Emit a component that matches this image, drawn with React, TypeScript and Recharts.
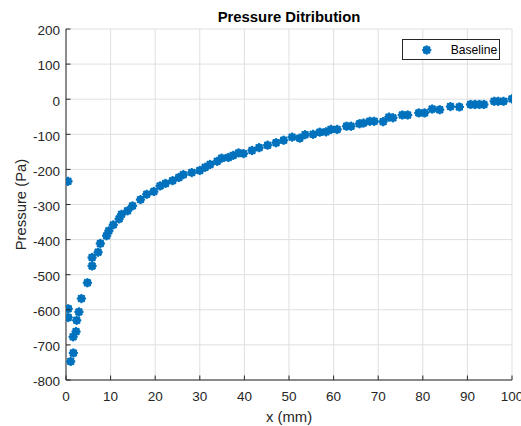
import React from 'react';
import { ScatterChart, Scatter, XAxis, YAxis, CartesianGrid } from 'recharts';

const xValues = [
  0.45, 0.5, 0.5, 1.05, 1.65, 1.6, 2.25, 2.4, 2.9, 3.45, 4.8, 5.85, 5.85, 7.2, 7.7, 9.1, 9.6,
  10.6, 11.9, 12.45, 13.8, 14.9, 16.7, 18.1, 19.7, 21.1, 22.3, 23.9, 25.3, 26.3, 28.2, 30.0,
  31.2, 32.3, 33.9, 34.9, 36.4, 37.5, 38.7, 39.8, 41.7, 43.3, 45.2, 47.1, 48.8, 50.7, 52.4,
  53.6, 55.4, 56.9, 58.3, 59.4, 60.8, 62.9, 63.9, 65.8, 66.7, 68.1, 69.1, 71.1, 72.4, 73.3,
  75.4, 76.6, 79.1, 80.4, 82.1, 83.8, 86.2, 88.2, 90.7, 91.7, 92.7, 93.7, 96.0, 96.9, 98.1,
  100,
];
const pressureValues = [
  -234, -597, -622, -747, -723, -677, -662, -630, -606, -568, -523, -475, -451, -436, -411,
  -389, -375, -358, -341, -328, -318, -304, -286, -271, -263, -247, -240, -232, -223, -215,
  -209, -203, -194, -186, -177, -168, -166, -160, -153, -155, -146, -138, -131, -124, -117,
  -108, -111, -101, -100, -94, -93, -86, -86, -77, -77, -70, -68, -63, -63, -64, -51, -53,
  -45, -45, -39, -39, -28, -30, -21, -22, -15, -15, -15, -15, -6, -6, -6, 1,
];
const xTicks = [0, 10, 20, 30, 40, 50, 60, 70, 80, 90, 100];
const yTicks = [-800, -700, -600, -500, -400, -300, -200, -100, 0, 100, 200];

const seriesName = 'Baseline';
const titleText = 'Pressure Ditribution';
const xLabel = 'x (mm)';
const yLabel = 'Pressure (Pa)';

const data = xValues.map((x, i) => ({ x, p: pressureValues[i] }));

const FONT = '"Liberation Sans", Arial, Helvetica, sans-serif';
const AX = '#262626';
const BLUE = '#0072BD';
const TL = 4.5;

const Marker = ({ cx, cy }: any) => {
  if (cx == null || cy == null) return null;
  const r = 4.6;
  const d = r * 0.7071;
  return (
    <g>
      <circle cx={cx} cy={cy} r={3.9} fill={BLUE} />
      <line x1={cx - r} x2={cx + r} y1={cy} y2={cy} stroke={BLUE} strokeWidth={2} />
      <line x1={cx} x2={cx} y1={cy - r} y2={cy + r} stroke={BLUE} strokeWidth={2} />
      <line x1={cx - d} x2={cx + d} y1={cy - d} y2={cy + d} stroke={BLUE} strokeWidth={2} />
      <line x1={cx - d} x2={cx + d} y1={cy + d} y2={cy - d} stroke={BLUE} strokeWidth={2} />
    </g>
  );
};

const BottomTick = (props: any) => {
  const { x, y, payload } = props;
  return (
    <g>
      <line x1={x} x2={x} y1={y} y2={y - TL} stroke={AX} />
      <text x={x} y={y + 20.7} textAnchor="middle" fontSize={13.5} fontFamily={FONT} fill={AX}>
        {payload.value}
      </text>
    </g>
  );
};
const TopTick = (props: any) => {
  const { x, y } = props;
  return <line x1={x} x2={x} y1={y} y2={y + TL} stroke={AX} />;
};
const LeftTick = (props: any) => {
  const { x, y, payload } = props;
  return (
    <g>
      <line x1={x} x2={x + TL} y1={y} y2={y} stroke={AX} />
      <text x={x - 6} y={y + 6.3} textAnchor="end" fontSize={13.5} fontFamily={FONT} fill={AX}>
        {payload.value}
      </text>
    </g>
  );
};
const RightTick = (props: any) => {
  const { x, y } = props;
  return <line x1={x} x2={x - TL} y1={y} y2={y} stroke={AX} />;
};

export default function App() {
  return (
    <div style={{ position: 'absolute', left: 0, top: 0, width: 521, height: 426, background: '#fff' }}>
      <ScatterChart width={521} height={426} margin={{ top: 29, right: 9, bottom: 0, left: 0 }}>
        <CartesianGrid stroke="#dfdfdf" />
        <XAxis
          dataKey="x"
          type="number"
          domain={[0, 100]}
          ticks={xTicks}
          allowDataOverflow
          height={46}
          tickSize={0}
          tickMargin={0}
          tickLine={false}
          tick={<BottomTick />}
          axisLine={{ stroke: AX }}
          interval={0}
        />
        <XAxis
          xAxisId="top"
          orientation="top"
          type="number"
          domain={[0, 100]}
          ticks={xTicks}
          height={0}
          tickSize={0}
          tickMargin={0}
          tickLine={false}
          tick={<TopTick />}
          axisLine={{ stroke: AX }}
          interval={0}
        />
        <YAxis
          dataKey="p"
          type="number"
          domain={[-800, 200]}
          ticks={yTicks}
          width={66}
          tickSize={0}
          tickMargin={0}
          tickLine={false}
          tick={<LeftTick />}
          axisLine={{ stroke: AX }}
          interval={0}
        />
        <YAxis
          yAxisId="right"
          orientation="right"
          type="number"
          domain={[-800, 200]}
          ticks={yTicks}
          width={0}
          tickSize={0}
          tickMargin={0}
          tickLine={false}
          tick={<RightTick />}
          axisLine={{ stroke: AX }}
          interval={0}
        />
        <Scatter name={seriesName} data={data} shape={<Marker />} isAnimationActive={false} />
      </ScatterChart>
      <svg
        width={521}
        height={426}
        style={{ position: 'absolute', left: 0, top: 0, pointerEvents: 'none' }}
      >
        <text x={289} y={21.5} textAnchor="middle" fontSize={14.85} fontWeight="bold" fontFamily={FONT} fill="#000">
          {titleText}
        </text>
        <text x={289} y={421.5} textAnchor="middle" fontSize={14.85} fontFamily={FONT} fill={AX}>
          {xLabel}
        </text>
        <text
          x={0}
          y={0}
          transform="translate(26,204.5) rotate(-90)"
          textAnchor="middle"
          fontSize={14.85}
          fontFamily={FONT}
          fill={AX}
        >
          {yLabel}
        </text>
        <rect x={402.5} y={39.5} width={97} height={20} fill="#fff" stroke={AX} strokeWidth={1} />
        <Marker cx={426.7} cy={50} />
        <text x={450.7} y={54.3} fontSize={12.15} fontFamily={FONT} fill="#000">
          {seriesName}
        </text>
      </svg>
    </div>
  );
}
